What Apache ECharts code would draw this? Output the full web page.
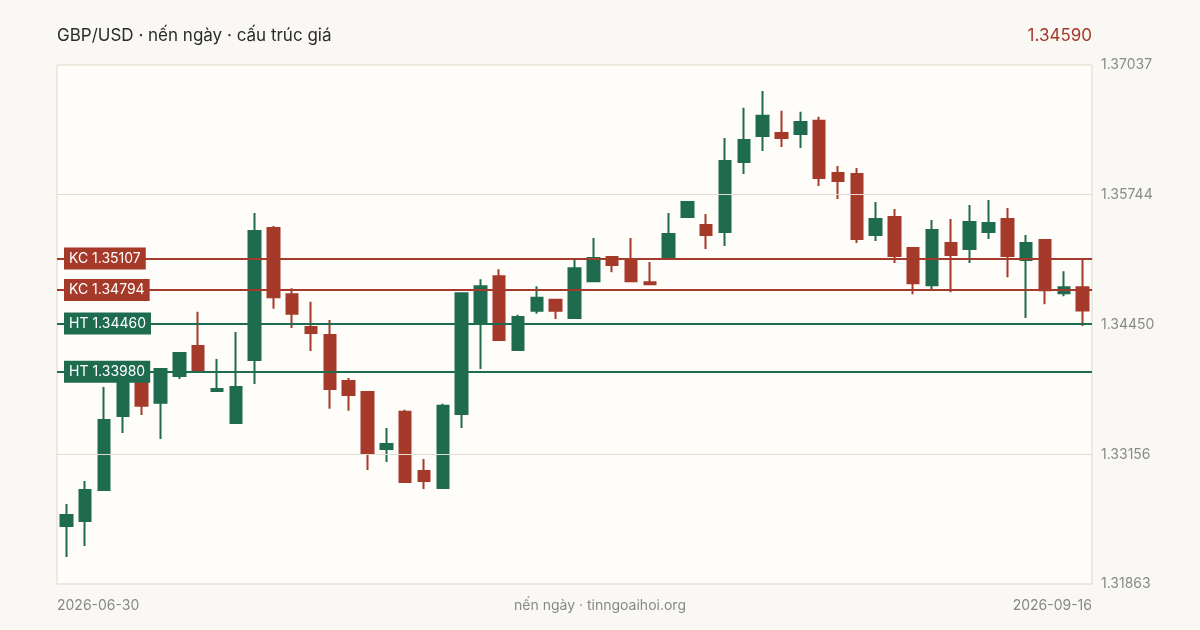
<!DOCTYPE html>
<html><head><meta charset="utf-8">
<script src="https://cdn.jsdelivr.net/npm/echarts@6/dist/echarts.min.js"></script>
<style>html,body{margin:0;padding:0;background:#f9f8f4}#c{width:1200px;height:630px}</style>
</head><body><div id="c"></div>
<script>
const opens  = [1.32441,1.32491,1.32799,1.33539,1.34006,1.33669,1.33936,1.34236,1.33786,1.33469,1.34096,1.35412,1.34752,1.34426,1.34346,1.33886,1.33776,1.33209,1.33579,1.32989,1.32819,1.33559,1.34466,1.34932,1.34196,1.34586,1.34696,1.34516,1.34882,1.35122,1.35102,1.34872,1.35112,1.35522,1.35442,1.35372,1.36070,1.36330,1.36360,1.36350,1.36480,1.35960,1.35950,1.35342,1.35522,1.35212,1.34842,1.35262,1.35202,1.35372,1.35502,1.35092,1.35292,1.34762,1.34822];
const closes = [1.32551,1.32799,1.33499,1.33926,1.33639,1.34006,1.34166,1.33986,1.33806,1.33826,1.35382,1.34722,1.34556,1.34366,1.33806,1.33746,1.33159,1.33259,1.32879,1.32889,1.33639,1.34762,1.34832,1.34296,1.34526,1.34716,1.34586,1.35012,1.35112,1.35042,1.34882,1.34852,1.35352,1.35672,1.35342,1.36080,1.36290,1.36530,1.36310,1.36470,1.35910,1.35880,1.35302,1.35502,1.35132,1.34862,1.35392,1.35142,1.35472,1.35462,1.35132,1.35262,1.34792,1.34822,1.34590];
const highs  = [1.32661,1.32889,1.33826,1.33996,1.34006,1.34006,1.34176,1.34576,1.34106,1.34376,1.35562,1.35432,1.34812,1.34676,1.34496,1.33916,1.33776,1.33419,1.33599,1.33109,1.33659,1.34762,1.34902,1.35002,1.34546,1.34832,1.34706,1.35092,1.35312,1.35132,1.35312,1.35072,1.35562,1.35672,1.35552,1.36310,1.36610,1.36778,1.36580,1.36570,1.36520,1.36030,1.36010,1.35672,1.35602,1.35212,1.35492,1.35502,1.35642,1.35692,1.35612,1.35342,1.35292,1.34982,1.35102];
const lows   = [1.32131,1.32241,1.32799,1.33369,1.33549,1.33309,1.33906,1.33976,1.33786,1.33469,1.33856,1.34606,1.34416,1.34186,1.33609,1.33589,1.32999,1.33079,1.32869,1.32809,1.32819,1.33419,1.34006,1.34296,1.34196,1.34556,1.34506,1.34516,1.34882,1.34972,1.34882,1.34842,1.35112,1.35522,1.35202,1.35232,1.35950,1.36180,1.36220,1.36210,1.35830,1.35700,1.35262,1.35282,1.35062,1.34752,1.34802,1.34772,1.35062,1.35302,1.34922,1.34516,1.34652,1.34732,1.34436];
const yTicks = [1.31863,1.33156,1.34450,1.35744,1.37037];
const resistance = [1.35107,1.34794];
const support = [1.34460,1.33980];
const firstDate = '2026-06-30', lastDate = '2026-09-16';
const lastPrice = '1.34590';

const dates = [];
{ let d = new Date(Date.UTC(2026,5,30)); while (dates.length < 55) { const w = d.getUTCDay(); const s = d.toISOString().slice(0,10); if (w!==0 && w!==6 && s!=='2026-09-07') dates.push(s); d.setUTCDate(d.getUTCDate()+1); } }
const ohlc = opens.map((o,i)=>[o,closes[i],lows[i],highs[i]]);

const UP='#1e6b50', DN='#a63a2a';
const lineSeries=(v,c,w,t,z)=>({type:'line',data:[],z:z,silent:true,
  markLine:{silent:true,symbol:'none',animation:false,precision:5,
    data:[{yAxis:v,lineStyle:{color:c,width:w,type:'solid'},
      label:t?{show:true,position:'insideStart',distance:7,formatter:t+' '+v.toFixed(5),color:'#fff',backgroundColor:c,padding:[4,5],fontSize:14,fontFamily:'Inter'}:{show:false}}]}});

const chart = echarts.init(document.getElementById('c'));
chart.setOption({
  backgroundColor:'#f9f8f4',
  animation:false,
  textStyle:{fontFamily:'Inter'},
  grid:{left:57,right:108,top:65,bottom:46,show:true,backgroundColor:'#fefdf9',borderColor:'#ddd8c8',borderWidth:1},
  title:[
    {text:'GBP/USD · nến ngày · cấu trúc giá',left:52,top:22,textStyle:{fontSize:17,fontWeight:'normal',color:'#2b2b2b',fontFamily:'Inter'}},
    {text:lastPrice,right:103,top:22,textStyle:{fontSize:17,fontWeight:'normal',color:DN,fontFamily:'Inter'}},
    {text:firstDate,left:52,top:594,textStyle:{fontSize:14,fontWeight:'normal',color:'#888',fontFamily:'Inter'}},
    {text:'nến ngày · tinngoaihoi.org',left:'center',top:594,textStyle:{fontSize:14,fontWeight:'normal',color:'#888',fontFamily:'Inter'}},
    {text:lastDate,right:103,top:594,textStyle:{fontSize:14,fontWeight:'normal',color:'#888',fontFamily:'Inter'}}
  ],
  xAxis:{type:'category',data:dates,boundaryGap:true,axisLine:{show:false},axisTick:{show:false},axisLabel:{show:false},splitLine:{show:false}},
  yAxis:{type:'value',position:'right',min:yTicks[0],max:yTicks[4],
    axisLine:{show:false},axisTick:{show:false},splitLine:{show:false},
    axisLabel:{customValues:yTicks,formatter:v=>v.toFixed(5),color:'#8a8a8a',fontSize:14,margin:9,fontFamily:'Inter'}},
  series:[
    lineSeries(yTicks[1],'#e0dccf',1,null,1),
    lineSeries(yTicks[2],'#e0dccf',1,null,1),
    lineSeries(yTicks[3],'#e0dccf',1,null,1),
    {type:'candlestick',data:ohlc,barWidth:12,z:3,
      itemStyle:{color:UP,color0:DN,borderColor:UP,borderColor0:DN,borderWidth:2}},
    lineSeries(resistance[0],DN,2,'KC',4),
    lineSeries(resistance[1],DN,2,'KC',4),
    lineSeries(support[0],UP,2,'HT',4),
    lineSeries(support[1],UP,2,'HT',4)
  ]
});
</script></body></html>
